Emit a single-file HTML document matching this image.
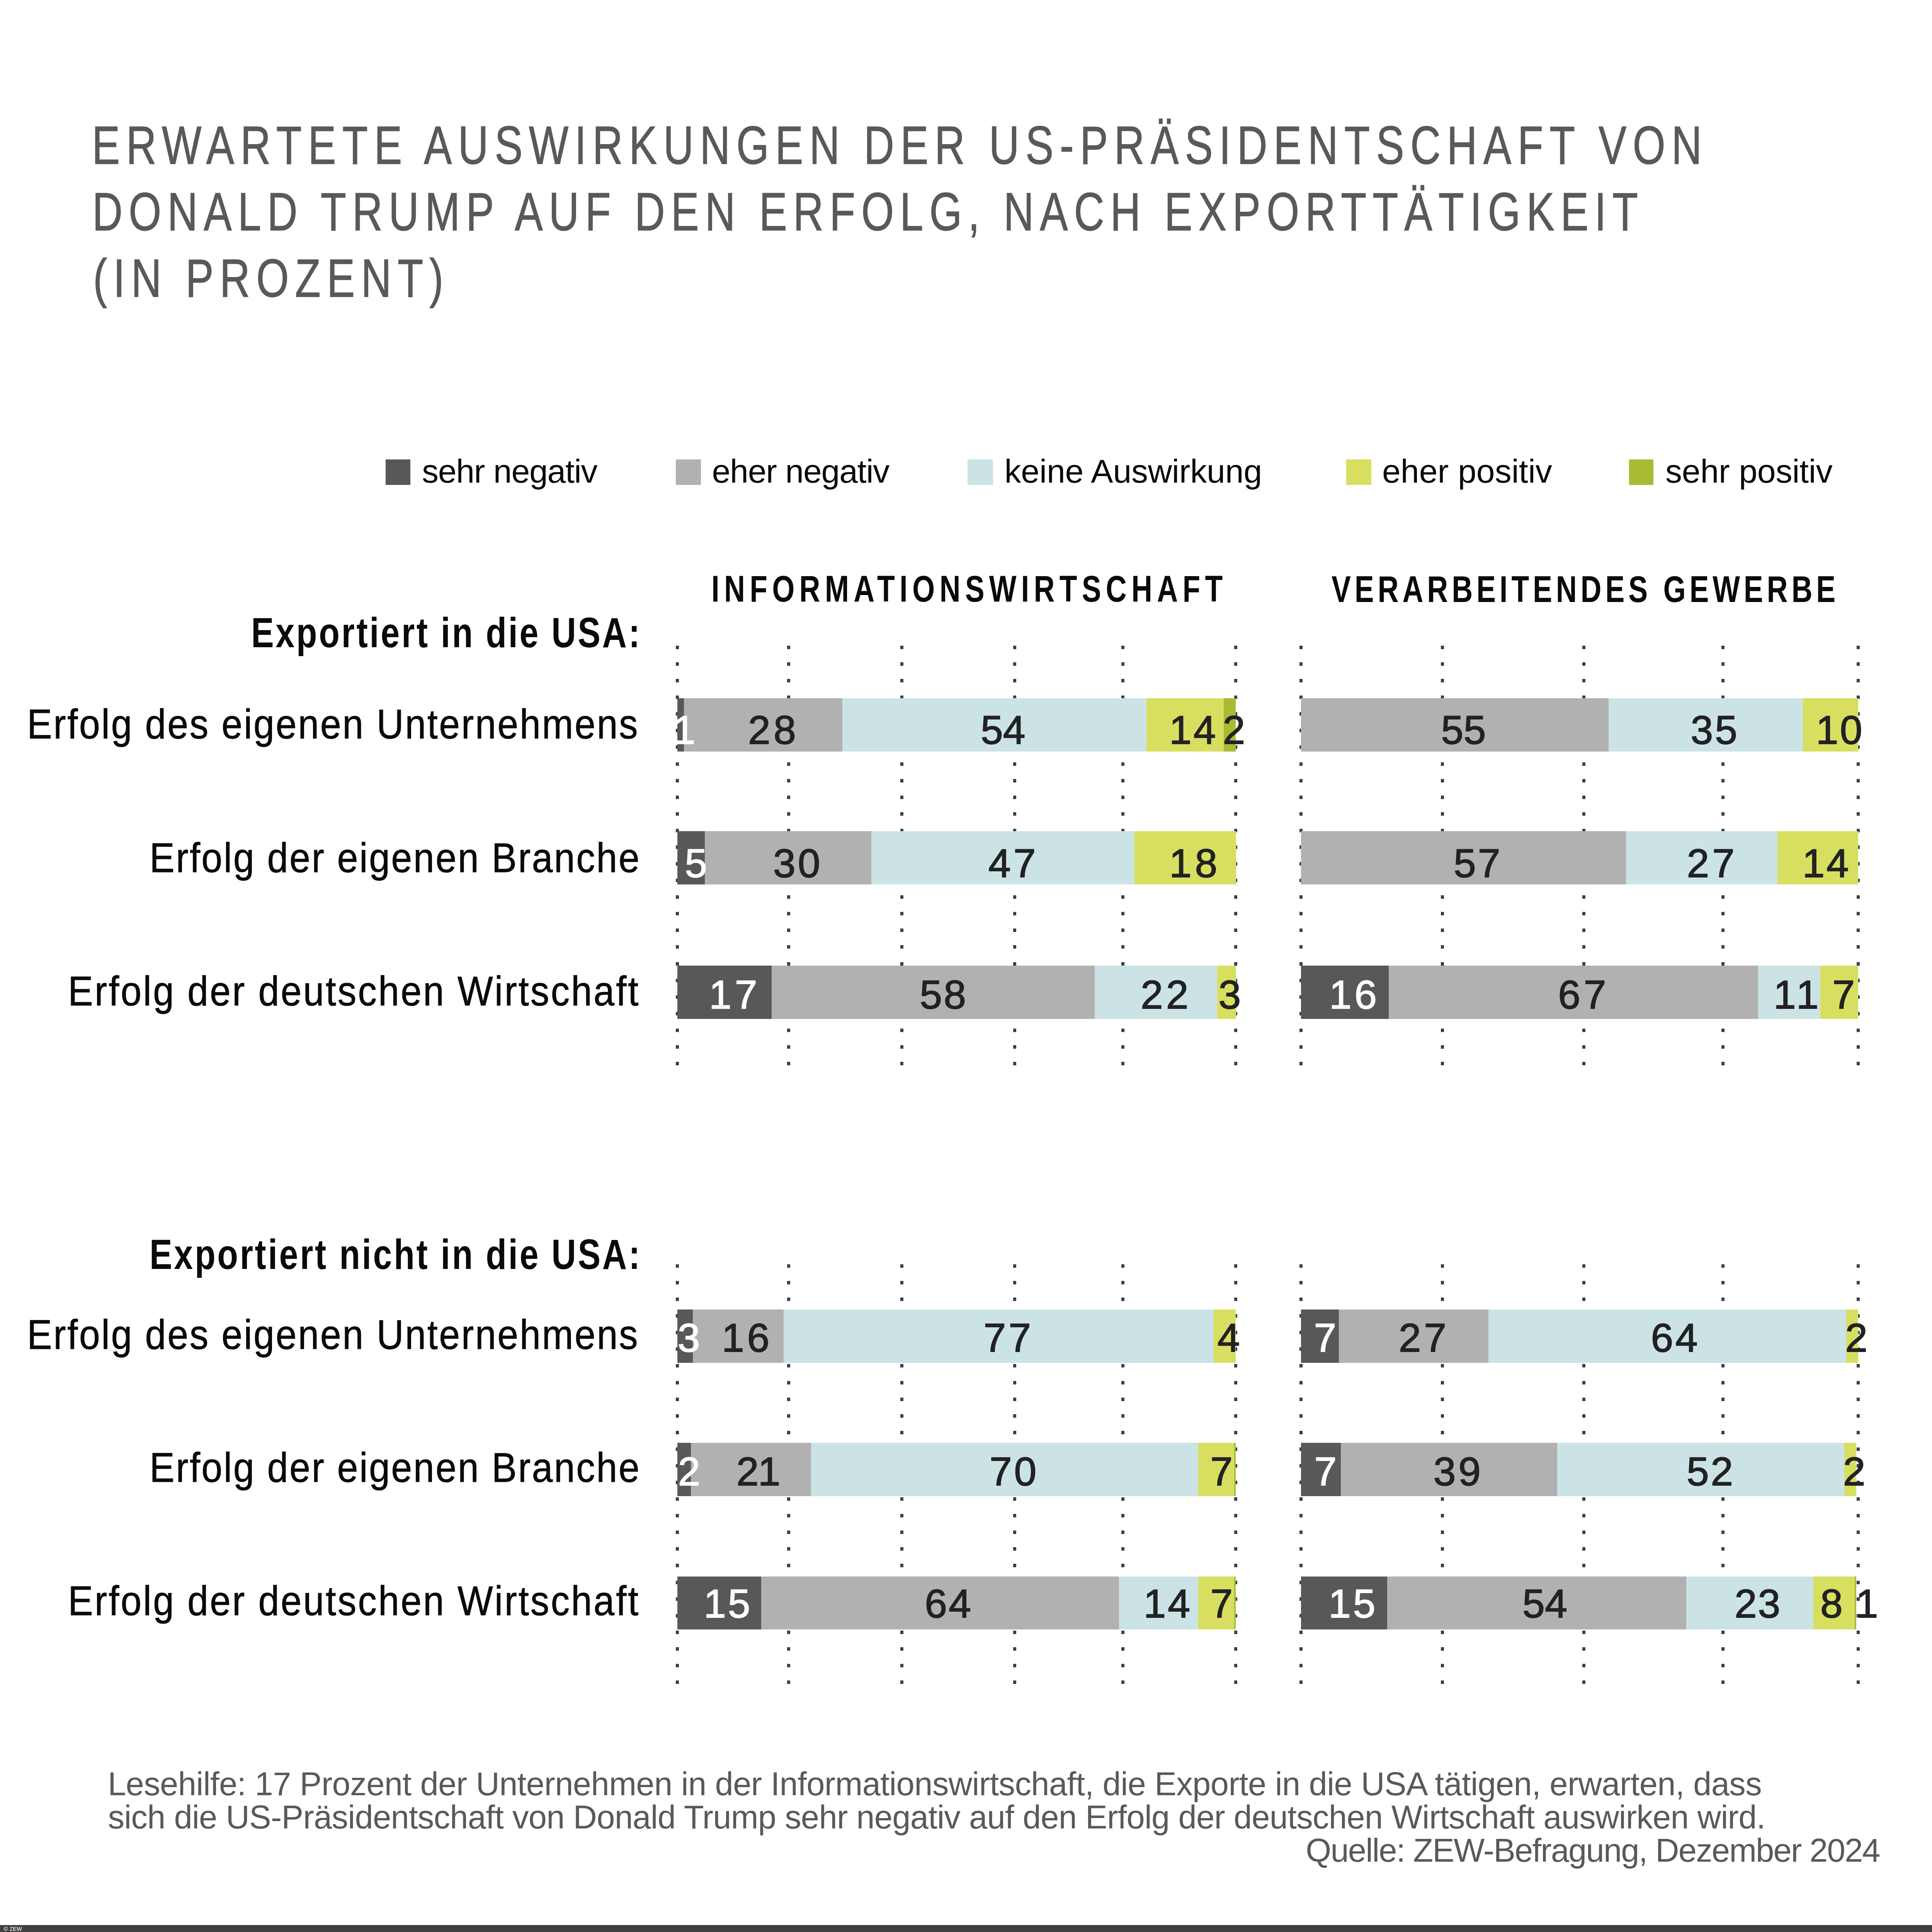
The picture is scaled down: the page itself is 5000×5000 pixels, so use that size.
<!DOCTYPE html>
<html><head><meta charset="utf-8"><title>Erwartete Auswirkungen der US-Präsidentschaft</title>
<style>
html,body{margin:0;padding:0;background:#fff;}
body{width:5000px;height:5000px;position:relative;overflow:hidden;font-family:"Liberation Sans",sans-serif;}
.t{position:absolute;white-space:nowrap;line-height:1;}
.b{position:absolute;}
.d{position:absolute;width:8px;height:9px;background:#30444e;}
</style></head><body>

<div class="d" style="left:1749px;top:1671px"></div>
<div class="d" style="left:1749px;top:1714px"></div>
<div class="d" style="left:1749px;top:1757px"></div>
<div class="d" style="left:1749px;top:1800px"></div>
<div class="d" style="left:1749px;top:1843px"></div>
<div class="d" style="left:1749px;top:1886px"></div>
<div class="d" style="left:1749px;top:1929px"></div>
<div class="d" style="left:1749px;top:1973px"></div>
<div class="d" style="left:1749px;top:2016px"></div>
<div class="d" style="left:1749px;top:2059px"></div>
<div class="d" style="left:1749px;top:2102px"></div>
<div class="d" style="left:1749px;top:2145px"></div>
<div class="d" style="left:1749px;top:2188px"></div>
<div class="d" style="left:1749px;top:2231px"></div>
<div class="d" style="left:1749px;top:2274px"></div>
<div class="d" style="left:1749px;top:2317px"></div>
<div class="d" style="left:1749px;top:2360px"></div>
<div class="d" style="left:1749px;top:2403px"></div>
<div class="d" style="left:1749px;top:2446px"></div>
<div class="d" style="left:1749px;top:2490px"></div>
<div class="d" style="left:1749px;top:2533px"></div>
<div class="d" style="left:1749px;top:2576px"></div>
<div class="d" style="left:1749px;top:2619px"></div>
<div class="d" style="left:1749px;top:2662px"></div>
<div class="d" style="left:1749px;top:2705px"></div>
<div class="d" style="left:1749px;top:2748px"></div>
<div class="d" style="left:2037px;top:1671px"></div>
<div class="d" style="left:2037px;top:1714px"></div>
<div class="d" style="left:2037px;top:1757px"></div>
<div class="d" style="left:2037px;top:1800px"></div>
<div class="d" style="left:2037px;top:1843px"></div>
<div class="d" style="left:2037px;top:1886px"></div>
<div class="d" style="left:2037px;top:1929px"></div>
<div class="d" style="left:2037px;top:1973px"></div>
<div class="d" style="left:2037px;top:2016px"></div>
<div class="d" style="left:2037px;top:2059px"></div>
<div class="d" style="left:2037px;top:2102px"></div>
<div class="d" style="left:2037px;top:2145px"></div>
<div class="d" style="left:2037px;top:2188px"></div>
<div class="d" style="left:2037px;top:2231px"></div>
<div class="d" style="left:2037px;top:2274px"></div>
<div class="d" style="left:2037px;top:2317px"></div>
<div class="d" style="left:2037px;top:2360px"></div>
<div class="d" style="left:2037px;top:2403px"></div>
<div class="d" style="left:2037px;top:2446px"></div>
<div class="d" style="left:2037px;top:2490px"></div>
<div class="d" style="left:2037px;top:2533px"></div>
<div class="d" style="left:2037px;top:2576px"></div>
<div class="d" style="left:2037px;top:2619px"></div>
<div class="d" style="left:2037px;top:2662px"></div>
<div class="d" style="left:2037px;top:2705px"></div>
<div class="d" style="left:2037px;top:2748px"></div>
<div class="d" style="left:2330px;top:1671px"></div>
<div class="d" style="left:2330px;top:1714px"></div>
<div class="d" style="left:2330px;top:1757px"></div>
<div class="d" style="left:2330px;top:1800px"></div>
<div class="d" style="left:2330px;top:1843px"></div>
<div class="d" style="left:2330px;top:1886px"></div>
<div class="d" style="left:2330px;top:1929px"></div>
<div class="d" style="left:2330px;top:1973px"></div>
<div class="d" style="left:2330px;top:2016px"></div>
<div class="d" style="left:2330px;top:2059px"></div>
<div class="d" style="left:2330px;top:2102px"></div>
<div class="d" style="left:2330px;top:2145px"></div>
<div class="d" style="left:2330px;top:2188px"></div>
<div class="d" style="left:2330px;top:2231px"></div>
<div class="d" style="left:2330px;top:2274px"></div>
<div class="d" style="left:2330px;top:2317px"></div>
<div class="d" style="left:2330px;top:2360px"></div>
<div class="d" style="left:2330px;top:2403px"></div>
<div class="d" style="left:2330px;top:2446px"></div>
<div class="d" style="left:2330px;top:2490px"></div>
<div class="d" style="left:2330px;top:2533px"></div>
<div class="d" style="left:2330px;top:2576px"></div>
<div class="d" style="left:2330px;top:2619px"></div>
<div class="d" style="left:2330px;top:2662px"></div>
<div class="d" style="left:2330px;top:2705px"></div>
<div class="d" style="left:2330px;top:2748px"></div>
<div class="d" style="left:2622px;top:1671px"></div>
<div class="d" style="left:2622px;top:1714px"></div>
<div class="d" style="left:2622px;top:1757px"></div>
<div class="d" style="left:2622px;top:1800px"></div>
<div class="d" style="left:2622px;top:1843px"></div>
<div class="d" style="left:2622px;top:1886px"></div>
<div class="d" style="left:2622px;top:1929px"></div>
<div class="d" style="left:2622px;top:1973px"></div>
<div class="d" style="left:2622px;top:2016px"></div>
<div class="d" style="left:2622px;top:2059px"></div>
<div class="d" style="left:2622px;top:2102px"></div>
<div class="d" style="left:2622px;top:2145px"></div>
<div class="d" style="left:2622px;top:2188px"></div>
<div class="d" style="left:2622px;top:2231px"></div>
<div class="d" style="left:2622px;top:2274px"></div>
<div class="d" style="left:2622px;top:2317px"></div>
<div class="d" style="left:2622px;top:2360px"></div>
<div class="d" style="left:2622px;top:2403px"></div>
<div class="d" style="left:2622px;top:2446px"></div>
<div class="d" style="left:2622px;top:2490px"></div>
<div class="d" style="left:2622px;top:2533px"></div>
<div class="d" style="left:2622px;top:2576px"></div>
<div class="d" style="left:2622px;top:2619px"></div>
<div class="d" style="left:2622px;top:2662px"></div>
<div class="d" style="left:2622px;top:2705px"></div>
<div class="d" style="left:2622px;top:2748px"></div>
<div class="d" style="left:2902px;top:1671px"></div>
<div class="d" style="left:2902px;top:1714px"></div>
<div class="d" style="left:2902px;top:1757px"></div>
<div class="d" style="left:2902px;top:1800px"></div>
<div class="d" style="left:2902px;top:1843px"></div>
<div class="d" style="left:2902px;top:1886px"></div>
<div class="d" style="left:2902px;top:1929px"></div>
<div class="d" style="left:2902px;top:1973px"></div>
<div class="d" style="left:2902px;top:2016px"></div>
<div class="d" style="left:2902px;top:2059px"></div>
<div class="d" style="left:2902px;top:2102px"></div>
<div class="d" style="left:2902px;top:2145px"></div>
<div class="d" style="left:2902px;top:2188px"></div>
<div class="d" style="left:2902px;top:2231px"></div>
<div class="d" style="left:2902px;top:2274px"></div>
<div class="d" style="left:2902px;top:2317px"></div>
<div class="d" style="left:2902px;top:2360px"></div>
<div class="d" style="left:2902px;top:2403px"></div>
<div class="d" style="left:2902px;top:2446px"></div>
<div class="d" style="left:2902px;top:2490px"></div>
<div class="d" style="left:2902px;top:2533px"></div>
<div class="d" style="left:2902px;top:2576px"></div>
<div class="d" style="left:2902px;top:2619px"></div>
<div class="d" style="left:2902px;top:2662px"></div>
<div class="d" style="left:2902px;top:2705px"></div>
<div class="d" style="left:2902px;top:2748px"></div>
<div class="d" style="left:3194px;top:1671px"></div>
<div class="d" style="left:3194px;top:1714px"></div>
<div class="d" style="left:3194px;top:1757px"></div>
<div class="d" style="left:3194px;top:1800px"></div>
<div class="d" style="left:3194px;top:1843px"></div>
<div class="d" style="left:3194px;top:1886px"></div>
<div class="d" style="left:3194px;top:1929px"></div>
<div class="d" style="left:3194px;top:1973px"></div>
<div class="d" style="left:3194px;top:2016px"></div>
<div class="d" style="left:3194px;top:2059px"></div>
<div class="d" style="left:3194px;top:2102px"></div>
<div class="d" style="left:3194px;top:2145px"></div>
<div class="d" style="left:3194px;top:2188px"></div>
<div class="d" style="left:3194px;top:2231px"></div>
<div class="d" style="left:3194px;top:2274px"></div>
<div class="d" style="left:3194px;top:2317px"></div>
<div class="d" style="left:3194px;top:2360px"></div>
<div class="d" style="left:3194px;top:2403px"></div>
<div class="d" style="left:3194px;top:2446px"></div>
<div class="d" style="left:3194px;top:2490px"></div>
<div class="d" style="left:3194px;top:2533px"></div>
<div class="d" style="left:3194px;top:2576px"></div>
<div class="d" style="left:3194px;top:2619px"></div>
<div class="d" style="left:3194px;top:2662px"></div>
<div class="d" style="left:3194px;top:2705px"></div>
<div class="d" style="left:3194px;top:2748px"></div>
<div class="d" style="left:3363px;top:1671px"></div>
<div class="d" style="left:3363px;top:1714px"></div>
<div class="d" style="left:3363px;top:1757px"></div>
<div class="d" style="left:3363px;top:1800px"></div>
<div class="d" style="left:3363px;top:1843px"></div>
<div class="d" style="left:3363px;top:1886px"></div>
<div class="d" style="left:3363px;top:1929px"></div>
<div class="d" style="left:3363px;top:1973px"></div>
<div class="d" style="left:3363px;top:2016px"></div>
<div class="d" style="left:3363px;top:2059px"></div>
<div class="d" style="left:3363px;top:2102px"></div>
<div class="d" style="left:3363px;top:2145px"></div>
<div class="d" style="left:3363px;top:2188px"></div>
<div class="d" style="left:3363px;top:2231px"></div>
<div class="d" style="left:3363px;top:2274px"></div>
<div class="d" style="left:3363px;top:2317px"></div>
<div class="d" style="left:3363px;top:2360px"></div>
<div class="d" style="left:3363px;top:2403px"></div>
<div class="d" style="left:3363px;top:2446px"></div>
<div class="d" style="left:3363px;top:2490px"></div>
<div class="d" style="left:3363px;top:2533px"></div>
<div class="d" style="left:3363px;top:2576px"></div>
<div class="d" style="left:3363px;top:2619px"></div>
<div class="d" style="left:3363px;top:2662px"></div>
<div class="d" style="left:3363px;top:2705px"></div>
<div class="d" style="left:3363px;top:2748px"></div>
<div class="d" style="left:3729px;top:1671px"></div>
<div class="d" style="left:3729px;top:1714px"></div>
<div class="d" style="left:3729px;top:1757px"></div>
<div class="d" style="left:3729px;top:1800px"></div>
<div class="d" style="left:3729px;top:1843px"></div>
<div class="d" style="left:3729px;top:1886px"></div>
<div class="d" style="left:3729px;top:1929px"></div>
<div class="d" style="left:3729px;top:1973px"></div>
<div class="d" style="left:3729px;top:2016px"></div>
<div class="d" style="left:3729px;top:2059px"></div>
<div class="d" style="left:3729px;top:2102px"></div>
<div class="d" style="left:3729px;top:2145px"></div>
<div class="d" style="left:3729px;top:2188px"></div>
<div class="d" style="left:3729px;top:2231px"></div>
<div class="d" style="left:3729px;top:2274px"></div>
<div class="d" style="left:3729px;top:2317px"></div>
<div class="d" style="left:3729px;top:2360px"></div>
<div class="d" style="left:3729px;top:2403px"></div>
<div class="d" style="left:3729px;top:2446px"></div>
<div class="d" style="left:3729px;top:2490px"></div>
<div class="d" style="left:3729px;top:2533px"></div>
<div class="d" style="left:3729px;top:2576px"></div>
<div class="d" style="left:3729px;top:2619px"></div>
<div class="d" style="left:3729px;top:2662px"></div>
<div class="d" style="left:3729px;top:2705px"></div>
<div class="d" style="left:3729px;top:2748px"></div>
<div class="d" style="left:4095px;top:1671px"></div>
<div class="d" style="left:4095px;top:1714px"></div>
<div class="d" style="left:4095px;top:1757px"></div>
<div class="d" style="left:4095px;top:1800px"></div>
<div class="d" style="left:4095px;top:1843px"></div>
<div class="d" style="left:4095px;top:1886px"></div>
<div class="d" style="left:4095px;top:1929px"></div>
<div class="d" style="left:4095px;top:1973px"></div>
<div class="d" style="left:4095px;top:2016px"></div>
<div class="d" style="left:4095px;top:2059px"></div>
<div class="d" style="left:4095px;top:2102px"></div>
<div class="d" style="left:4095px;top:2145px"></div>
<div class="d" style="left:4095px;top:2188px"></div>
<div class="d" style="left:4095px;top:2231px"></div>
<div class="d" style="left:4095px;top:2274px"></div>
<div class="d" style="left:4095px;top:2317px"></div>
<div class="d" style="left:4095px;top:2360px"></div>
<div class="d" style="left:4095px;top:2403px"></div>
<div class="d" style="left:4095px;top:2446px"></div>
<div class="d" style="left:4095px;top:2490px"></div>
<div class="d" style="left:4095px;top:2533px"></div>
<div class="d" style="left:4095px;top:2576px"></div>
<div class="d" style="left:4095px;top:2619px"></div>
<div class="d" style="left:4095px;top:2662px"></div>
<div class="d" style="left:4095px;top:2705px"></div>
<div class="d" style="left:4095px;top:2748px"></div>
<div class="d" style="left:4455px;top:1671px"></div>
<div class="d" style="left:4455px;top:1714px"></div>
<div class="d" style="left:4455px;top:1757px"></div>
<div class="d" style="left:4455px;top:1800px"></div>
<div class="d" style="left:4455px;top:1843px"></div>
<div class="d" style="left:4455px;top:1886px"></div>
<div class="d" style="left:4455px;top:1929px"></div>
<div class="d" style="left:4455px;top:1973px"></div>
<div class="d" style="left:4455px;top:2016px"></div>
<div class="d" style="left:4455px;top:2059px"></div>
<div class="d" style="left:4455px;top:2102px"></div>
<div class="d" style="left:4455px;top:2145px"></div>
<div class="d" style="left:4455px;top:2188px"></div>
<div class="d" style="left:4455px;top:2231px"></div>
<div class="d" style="left:4455px;top:2274px"></div>
<div class="d" style="left:4455px;top:2317px"></div>
<div class="d" style="left:4455px;top:2360px"></div>
<div class="d" style="left:4455px;top:2403px"></div>
<div class="d" style="left:4455px;top:2446px"></div>
<div class="d" style="left:4455px;top:2490px"></div>
<div class="d" style="left:4455px;top:2533px"></div>
<div class="d" style="left:4455px;top:2576px"></div>
<div class="d" style="left:4455px;top:2619px"></div>
<div class="d" style="left:4455px;top:2662px"></div>
<div class="d" style="left:4455px;top:2705px"></div>
<div class="d" style="left:4455px;top:2748px"></div>
<div class="d" style="left:4805px;top:1671px"></div>
<div class="d" style="left:4805px;top:1714px"></div>
<div class="d" style="left:4805px;top:1757px"></div>
<div class="d" style="left:4805px;top:1800px"></div>
<div class="d" style="left:4805px;top:1843px"></div>
<div class="d" style="left:4805px;top:1886px"></div>
<div class="d" style="left:4805px;top:1929px"></div>
<div class="d" style="left:4805px;top:1973px"></div>
<div class="d" style="left:4805px;top:2016px"></div>
<div class="d" style="left:4805px;top:2059px"></div>
<div class="d" style="left:4805px;top:2102px"></div>
<div class="d" style="left:4805px;top:2145px"></div>
<div class="d" style="left:4805px;top:2188px"></div>
<div class="d" style="left:4805px;top:2231px"></div>
<div class="d" style="left:4805px;top:2274px"></div>
<div class="d" style="left:4805px;top:2317px"></div>
<div class="d" style="left:4805px;top:2360px"></div>
<div class="d" style="left:4805px;top:2403px"></div>
<div class="d" style="left:4805px;top:2446px"></div>
<div class="d" style="left:4805px;top:2490px"></div>
<div class="d" style="left:4805px;top:2533px"></div>
<div class="d" style="left:4805px;top:2576px"></div>
<div class="d" style="left:4805px;top:2619px"></div>
<div class="d" style="left:4805px;top:2662px"></div>
<div class="d" style="left:4805px;top:2705px"></div>
<div class="d" style="left:4805px;top:2748px"></div>
<div class="d" style="left:1749px;top:3272px"></div>
<div class="d" style="left:1749px;top:3315px"></div>
<div class="d" style="left:1749px;top:3358px"></div>
<div class="d" style="left:1749px;top:3401px"></div>
<div class="d" style="left:1749px;top:3444px"></div>
<div class="d" style="left:1749px;top:3487px"></div>
<div class="d" style="left:1749px;top:3530px"></div>
<div class="d" style="left:1749px;top:3574px"></div>
<div class="d" style="left:1749px;top:3617px"></div>
<div class="d" style="left:1749px;top:3660px"></div>
<div class="d" style="left:1749px;top:3703px"></div>
<div class="d" style="left:1749px;top:3746px"></div>
<div class="d" style="left:1749px;top:3789px"></div>
<div class="d" style="left:1749px;top:3832px"></div>
<div class="d" style="left:1749px;top:3875px"></div>
<div class="d" style="left:1749px;top:3918px"></div>
<div class="d" style="left:1749px;top:3961px"></div>
<div class="d" style="left:1749px;top:4004px"></div>
<div class="d" style="left:1749px;top:4047px"></div>
<div class="d" style="left:1749px;top:4091px"></div>
<div class="d" style="left:1749px;top:4134px"></div>
<div class="d" style="left:1749px;top:4177px"></div>
<div class="d" style="left:1749px;top:4220px"></div>
<div class="d" style="left:1749px;top:4263px"></div>
<div class="d" style="left:1749px;top:4306px"></div>
<div class="d" style="left:1749px;top:4349px"></div>
<div class="d" style="left:2037px;top:3272px"></div>
<div class="d" style="left:2037px;top:3315px"></div>
<div class="d" style="left:2037px;top:3358px"></div>
<div class="d" style="left:2037px;top:3401px"></div>
<div class="d" style="left:2037px;top:3444px"></div>
<div class="d" style="left:2037px;top:3487px"></div>
<div class="d" style="left:2037px;top:3530px"></div>
<div class="d" style="left:2037px;top:3574px"></div>
<div class="d" style="left:2037px;top:3617px"></div>
<div class="d" style="left:2037px;top:3660px"></div>
<div class="d" style="left:2037px;top:3703px"></div>
<div class="d" style="left:2037px;top:3746px"></div>
<div class="d" style="left:2037px;top:3789px"></div>
<div class="d" style="left:2037px;top:3832px"></div>
<div class="d" style="left:2037px;top:3875px"></div>
<div class="d" style="left:2037px;top:3918px"></div>
<div class="d" style="left:2037px;top:3961px"></div>
<div class="d" style="left:2037px;top:4004px"></div>
<div class="d" style="left:2037px;top:4047px"></div>
<div class="d" style="left:2037px;top:4091px"></div>
<div class="d" style="left:2037px;top:4134px"></div>
<div class="d" style="left:2037px;top:4177px"></div>
<div class="d" style="left:2037px;top:4220px"></div>
<div class="d" style="left:2037px;top:4263px"></div>
<div class="d" style="left:2037px;top:4306px"></div>
<div class="d" style="left:2037px;top:4349px"></div>
<div class="d" style="left:2330px;top:3272px"></div>
<div class="d" style="left:2330px;top:3315px"></div>
<div class="d" style="left:2330px;top:3358px"></div>
<div class="d" style="left:2330px;top:3401px"></div>
<div class="d" style="left:2330px;top:3444px"></div>
<div class="d" style="left:2330px;top:3487px"></div>
<div class="d" style="left:2330px;top:3530px"></div>
<div class="d" style="left:2330px;top:3574px"></div>
<div class="d" style="left:2330px;top:3617px"></div>
<div class="d" style="left:2330px;top:3660px"></div>
<div class="d" style="left:2330px;top:3703px"></div>
<div class="d" style="left:2330px;top:3746px"></div>
<div class="d" style="left:2330px;top:3789px"></div>
<div class="d" style="left:2330px;top:3832px"></div>
<div class="d" style="left:2330px;top:3875px"></div>
<div class="d" style="left:2330px;top:3918px"></div>
<div class="d" style="left:2330px;top:3961px"></div>
<div class="d" style="left:2330px;top:4004px"></div>
<div class="d" style="left:2330px;top:4047px"></div>
<div class="d" style="left:2330px;top:4091px"></div>
<div class="d" style="left:2330px;top:4134px"></div>
<div class="d" style="left:2330px;top:4177px"></div>
<div class="d" style="left:2330px;top:4220px"></div>
<div class="d" style="left:2330px;top:4263px"></div>
<div class="d" style="left:2330px;top:4306px"></div>
<div class="d" style="left:2330px;top:4349px"></div>
<div class="d" style="left:2622px;top:3272px"></div>
<div class="d" style="left:2622px;top:3315px"></div>
<div class="d" style="left:2622px;top:3358px"></div>
<div class="d" style="left:2622px;top:3401px"></div>
<div class="d" style="left:2622px;top:3444px"></div>
<div class="d" style="left:2622px;top:3487px"></div>
<div class="d" style="left:2622px;top:3530px"></div>
<div class="d" style="left:2622px;top:3574px"></div>
<div class="d" style="left:2622px;top:3617px"></div>
<div class="d" style="left:2622px;top:3660px"></div>
<div class="d" style="left:2622px;top:3703px"></div>
<div class="d" style="left:2622px;top:3746px"></div>
<div class="d" style="left:2622px;top:3789px"></div>
<div class="d" style="left:2622px;top:3832px"></div>
<div class="d" style="left:2622px;top:3875px"></div>
<div class="d" style="left:2622px;top:3918px"></div>
<div class="d" style="left:2622px;top:3961px"></div>
<div class="d" style="left:2622px;top:4004px"></div>
<div class="d" style="left:2622px;top:4047px"></div>
<div class="d" style="left:2622px;top:4091px"></div>
<div class="d" style="left:2622px;top:4134px"></div>
<div class="d" style="left:2622px;top:4177px"></div>
<div class="d" style="left:2622px;top:4220px"></div>
<div class="d" style="left:2622px;top:4263px"></div>
<div class="d" style="left:2622px;top:4306px"></div>
<div class="d" style="left:2622px;top:4349px"></div>
<div class="d" style="left:2902px;top:3272px"></div>
<div class="d" style="left:2902px;top:3315px"></div>
<div class="d" style="left:2902px;top:3358px"></div>
<div class="d" style="left:2902px;top:3401px"></div>
<div class="d" style="left:2902px;top:3444px"></div>
<div class="d" style="left:2902px;top:3487px"></div>
<div class="d" style="left:2902px;top:3530px"></div>
<div class="d" style="left:2902px;top:3574px"></div>
<div class="d" style="left:2902px;top:3617px"></div>
<div class="d" style="left:2902px;top:3660px"></div>
<div class="d" style="left:2902px;top:3703px"></div>
<div class="d" style="left:2902px;top:3746px"></div>
<div class="d" style="left:2902px;top:3789px"></div>
<div class="d" style="left:2902px;top:3832px"></div>
<div class="d" style="left:2902px;top:3875px"></div>
<div class="d" style="left:2902px;top:3918px"></div>
<div class="d" style="left:2902px;top:3961px"></div>
<div class="d" style="left:2902px;top:4004px"></div>
<div class="d" style="left:2902px;top:4047px"></div>
<div class="d" style="left:2902px;top:4091px"></div>
<div class="d" style="left:2902px;top:4134px"></div>
<div class="d" style="left:2902px;top:4177px"></div>
<div class="d" style="left:2902px;top:4220px"></div>
<div class="d" style="left:2902px;top:4263px"></div>
<div class="d" style="left:2902px;top:4306px"></div>
<div class="d" style="left:2902px;top:4349px"></div>
<div class="d" style="left:3194px;top:3272px"></div>
<div class="d" style="left:3194px;top:3315px"></div>
<div class="d" style="left:3194px;top:3358px"></div>
<div class="d" style="left:3194px;top:3401px"></div>
<div class="d" style="left:3194px;top:3444px"></div>
<div class="d" style="left:3194px;top:3487px"></div>
<div class="d" style="left:3194px;top:3530px"></div>
<div class="d" style="left:3194px;top:3574px"></div>
<div class="d" style="left:3194px;top:3617px"></div>
<div class="d" style="left:3194px;top:3660px"></div>
<div class="d" style="left:3194px;top:3703px"></div>
<div class="d" style="left:3194px;top:3746px"></div>
<div class="d" style="left:3194px;top:3789px"></div>
<div class="d" style="left:3194px;top:3832px"></div>
<div class="d" style="left:3194px;top:3875px"></div>
<div class="d" style="left:3194px;top:3918px"></div>
<div class="d" style="left:3194px;top:3961px"></div>
<div class="d" style="left:3194px;top:4004px"></div>
<div class="d" style="left:3194px;top:4047px"></div>
<div class="d" style="left:3194px;top:4091px"></div>
<div class="d" style="left:3194px;top:4134px"></div>
<div class="d" style="left:3194px;top:4177px"></div>
<div class="d" style="left:3194px;top:4220px"></div>
<div class="d" style="left:3194px;top:4263px"></div>
<div class="d" style="left:3194px;top:4306px"></div>
<div class="d" style="left:3194px;top:4349px"></div>
<div class="d" style="left:3363px;top:3272px"></div>
<div class="d" style="left:3363px;top:3315px"></div>
<div class="d" style="left:3363px;top:3358px"></div>
<div class="d" style="left:3363px;top:3401px"></div>
<div class="d" style="left:3363px;top:3444px"></div>
<div class="d" style="left:3363px;top:3487px"></div>
<div class="d" style="left:3363px;top:3530px"></div>
<div class="d" style="left:3363px;top:3574px"></div>
<div class="d" style="left:3363px;top:3617px"></div>
<div class="d" style="left:3363px;top:3660px"></div>
<div class="d" style="left:3363px;top:3703px"></div>
<div class="d" style="left:3363px;top:3746px"></div>
<div class="d" style="left:3363px;top:3789px"></div>
<div class="d" style="left:3363px;top:3832px"></div>
<div class="d" style="left:3363px;top:3875px"></div>
<div class="d" style="left:3363px;top:3918px"></div>
<div class="d" style="left:3363px;top:3961px"></div>
<div class="d" style="left:3363px;top:4004px"></div>
<div class="d" style="left:3363px;top:4047px"></div>
<div class="d" style="left:3363px;top:4091px"></div>
<div class="d" style="left:3363px;top:4134px"></div>
<div class="d" style="left:3363px;top:4177px"></div>
<div class="d" style="left:3363px;top:4220px"></div>
<div class="d" style="left:3363px;top:4263px"></div>
<div class="d" style="left:3363px;top:4306px"></div>
<div class="d" style="left:3363px;top:4349px"></div>
<div class="d" style="left:3729px;top:3272px"></div>
<div class="d" style="left:3729px;top:3315px"></div>
<div class="d" style="left:3729px;top:3358px"></div>
<div class="d" style="left:3729px;top:3401px"></div>
<div class="d" style="left:3729px;top:3444px"></div>
<div class="d" style="left:3729px;top:3487px"></div>
<div class="d" style="left:3729px;top:3530px"></div>
<div class="d" style="left:3729px;top:3574px"></div>
<div class="d" style="left:3729px;top:3617px"></div>
<div class="d" style="left:3729px;top:3660px"></div>
<div class="d" style="left:3729px;top:3703px"></div>
<div class="d" style="left:3729px;top:3746px"></div>
<div class="d" style="left:3729px;top:3789px"></div>
<div class="d" style="left:3729px;top:3832px"></div>
<div class="d" style="left:3729px;top:3875px"></div>
<div class="d" style="left:3729px;top:3918px"></div>
<div class="d" style="left:3729px;top:3961px"></div>
<div class="d" style="left:3729px;top:4004px"></div>
<div class="d" style="left:3729px;top:4047px"></div>
<div class="d" style="left:3729px;top:4091px"></div>
<div class="d" style="left:3729px;top:4134px"></div>
<div class="d" style="left:3729px;top:4177px"></div>
<div class="d" style="left:3729px;top:4220px"></div>
<div class="d" style="left:3729px;top:4263px"></div>
<div class="d" style="left:3729px;top:4306px"></div>
<div class="d" style="left:3729px;top:4349px"></div>
<div class="d" style="left:4095px;top:3272px"></div>
<div class="d" style="left:4095px;top:3315px"></div>
<div class="d" style="left:4095px;top:3358px"></div>
<div class="d" style="left:4095px;top:3401px"></div>
<div class="d" style="left:4095px;top:3444px"></div>
<div class="d" style="left:4095px;top:3487px"></div>
<div class="d" style="left:4095px;top:3530px"></div>
<div class="d" style="left:4095px;top:3574px"></div>
<div class="d" style="left:4095px;top:3617px"></div>
<div class="d" style="left:4095px;top:3660px"></div>
<div class="d" style="left:4095px;top:3703px"></div>
<div class="d" style="left:4095px;top:3746px"></div>
<div class="d" style="left:4095px;top:3789px"></div>
<div class="d" style="left:4095px;top:3832px"></div>
<div class="d" style="left:4095px;top:3875px"></div>
<div class="d" style="left:4095px;top:3918px"></div>
<div class="d" style="left:4095px;top:3961px"></div>
<div class="d" style="left:4095px;top:4004px"></div>
<div class="d" style="left:4095px;top:4047px"></div>
<div class="d" style="left:4095px;top:4091px"></div>
<div class="d" style="left:4095px;top:4134px"></div>
<div class="d" style="left:4095px;top:4177px"></div>
<div class="d" style="left:4095px;top:4220px"></div>
<div class="d" style="left:4095px;top:4263px"></div>
<div class="d" style="left:4095px;top:4306px"></div>
<div class="d" style="left:4095px;top:4349px"></div>
<div class="d" style="left:4455px;top:3272px"></div>
<div class="d" style="left:4455px;top:3315px"></div>
<div class="d" style="left:4455px;top:3358px"></div>
<div class="d" style="left:4455px;top:3401px"></div>
<div class="d" style="left:4455px;top:3444px"></div>
<div class="d" style="left:4455px;top:3487px"></div>
<div class="d" style="left:4455px;top:3530px"></div>
<div class="d" style="left:4455px;top:3574px"></div>
<div class="d" style="left:4455px;top:3617px"></div>
<div class="d" style="left:4455px;top:3660px"></div>
<div class="d" style="left:4455px;top:3703px"></div>
<div class="d" style="left:4455px;top:3746px"></div>
<div class="d" style="left:4455px;top:3789px"></div>
<div class="d" style="left:4455px;top:3832px"></div>
<div class="d" style="left:4455px;top:3875px"></div>
<div class="d" style="left:4455px;top:3918px"></div>
<div class="d" style="left:4455px;top:3961px"></div>
<div class="d" style="left:4455px;top:4004px"></div>
<div class="d" style="left:4455px;top:4047px"></div>
<div class="d" style="left:4455px;top:4091px"></div>
<div class="d" style="left:4455px;top:4134px"></div>
<div class="d" style="left:4455px;top:4177px"></div>
<div class="d" style="left:4455px;top:4220px"></div>
<div class="d" style="left:4455px;top:4263px"></div>
<div class="d" style="left:4455px;top:4306px"></div>
<div class="d" style="left:4455px;top:4349px"></div>
<div class="d" style="left:4805px;top:3272px"></div>
<div class="d" style="left:4805px;top:3315px"></div>
<div class="d" style="left:4805px;top:3358px"></div>
<div class="d" style="left:4805px;top:3401px"></div>
<div class="d" style="left:4805px;top:3444px"></div>
<div class="d" style="left:4805px;top:3487px"></div>
<div class="d" style="left:4805px;top:3530px"></div>
<div class="d" style="left:4805px;top:3574px"></div>
<div class="d" style="left:4805px;top:3617px"></div>
<div class="d" style="left:4805px;top:3660px"></div>
<div class="d" style="left:4805px;top:3703px"></div>
<div class="d" style="left:4805px;top:3746px"></div>
<div class="d" style="left:4805px;top:3789px"></div>
<div class="d" style="left:4805px;top:3832px"></div>
<div class="d" style="left:4805px;top:3875px"></div>
<div class="d" style="left:4805px;top:3918px"></div>
<div class="d" style="left:4805px;top:3961px"></div>
<div class="d" style="left:4805px;top:4004px"></div>
<div class="d" style="left:4805px;top:4047px"></div>
<div class="d" style="left:4805px;top:4091px"></div>
<div class="d" style="left:4805px;top:4134px"></div>
<div class="d" style="left:4805px;top:4177px"></div>
<div class="d" style="left:4805px;top:4220px"></div>
<div class="d" style="left:4805px;top:4263px"></div>
<div class="d" style="left:4805px;top:4306px"></div>
<div class="d" style="left:4805px;top:4349px"></div>
<div class="b" style="left:1752.5px;top:1807px;width:17.7px;height:137.7px;background:#585858"></div>
<div class="b" style="left:1770.2px;top:1807px;width:409.6px;height:137.7px;background:#b1b1b1"></div>
<div class="b" style="left:2179.8px;top:1807px;width:787.2px;height:137.7px;background:#cce3e6"></div>
<div class="b" style="left:2967px;top:1807px;width:200.4px;height:137.7px;background:#d8df60"></div>
<div class="b" style="left:3167.4px;top:1807px;width:31.1px;height:137.7px;background:#a9bb31"></div>
<div class="b" style="left:1752.5px;top:2151.4px;width:71.4px;height:137.7px;background:#585858"></div>
<div class="b" style="left:1823.9px;top:2151.4px;width:431.2px;height:137.7px;background:#b1b1b1"></div>
<div class="b" style="left:2255.1px;top:2151.4px;width:680.9px;height:137.7px;background:#cce3e6"></div>
<div class="b" style="left:2936px;top:2151.4px;width:262.5px;height:137.7px;background:#d8df60"></div>
<div class="b" style="left:1752.5px;top:2498.9px;width:244.5px;height:137.7px;background:#585858"></div>
<div class="b" style="left:1997px;top:2498.9px;width:836.4px;height:137.7px;background:#b1b1b1"></div>
<div class="b" style="left:2833.4px;top:2498.9px;width:316.4px;height:137.7px;background:#cce3e6"></div>
<div class="b" style="left:3149.8px;top:2498.9px;width:48.8px;height:137.7px;background:#d8df60"></div>
<div class="b" style="left:3367.3px;top:1807px;width:796px;height:137.7px;background:#b1b1b1"></div>
<div class="b" style="left:4163.3px;top:1807px;width:503.1px;height:137.7px;background:#cce3e6"></div>
<div class="b" style="left:4666.4px;top:1807px;width:142.6px;height:137.7px;background:#d8df60"></div>
<div class="b" style="left:3367.3px;top:2151.4px;width:840.6px;height:137.7px;background:#b1b1b1"></div>
<div class="b" style="left:4207.9px;top:2151.4px;width:391.7px;height:137.7px;background:#cce3e6"></div>
<div class="b" style="left:4599.6px;top:2151.4px;width:209.4px;height:137.7px;background:#d8df60"></div>
<div class="b" style="left:3367.3px;top:2498.9px;width:226.5px;height:137.7px;background:#585858"></div>
<div class="b" style="left:3593.8px;top:2498.9px;width:956.5px;height:137.7px;background:#b1b1b1"></div>
<div class="b" style="left:4550.3px;top:2498.9px;width:160.7px;height:137.7px;background:#cce3e6"></div>
<div class="b" style="left:4711px;top:2498.9px;width:98px;height:137.7px;background:#d8df60"></div>
<div class="b" style="left:1752.5px;top:3389px;width:40.3px;height:137.7px;background:#585858"></div>
<div class="b" style="left:1792.8px;top:3389px;width:235.4px;height:137.7px;background:#b1b1b1"></div>
<div class="b" style="left:2028.2px;top:3389px;width:1112.5px;height:137.7px;background:#cce3e6"></div>
<div class="b" style="left:3140.7px;top:3389px;width:57.3px;height:137.7px;background:#d8df60"></div>
<div class="b" style="left:1752.5px;top:3734.2px;width:35.6px;height:137.7px;background:#585858"></div>
<div class="b" style="left:1788.1px;top:3734.2px;width:310.9px;height:137.7px;background:#b1b1b1"></div>
<div class="b" style="left:2099px;top:3734.2px;width:1002px;height:137.7px;background:#cce3e6"></div>
<div class="b" style="left:3101px;top:3734.2px;width:93px;height:137.7px;background:#d8df60"></div>
<div class="b" style="left:3194px;top:3734.2px;width:4px;height:137.7px;background:#a9bb31"></div>
<div class="b" style="left:1752.5px;top:4079.8px;width:217.7px;height:137.7px;background:#585858"></div>
<div class="b" style="left:1970.2px;top:4079.8px;width:925.4px;height:137.7px;background:#b1b1b1"></div>
<div class="b" style="left:2895.6px;top:4079.8px;width:205.4px;height:137.7px;background:#cce3e6"></div>
<div class="b" style="left:3101px;top:4079.8px;width:93px;height:137.7px;background:#d8df60"></div>
<div class="b" style="left:3194px;top:4079.8px;width:4px;height:137.7px;background:#a9bb31"></div>
<div class="b" style="left:3367.3px;top:3389px;width:97.6px;height:137.7px;background:#585858"></div>
<div class="b" style="left:3464.9px;top:3389px;width:387.1px;height:137.7px;background:#b1b1b1"></div>
<div class="b" style="left:3852px;top:3389px;width:925.8px;height:137.7px;background:#cce3e6"></div>
<div class="b" style="left:4777.8px;top:3389px;width:31.2px;height:137.7px;background:#d8df60"></div>
<div class="b" style="left:3367.3px;top:3734.2px;width:102.3px;height:137.7px;background:#585858"></div>
<div class="b" style="left:3469.6px;top:3734.2px;width:560.4px;height:137.7px;background:#b1b1b1"></div>
<div class="b" style="left:4030px;top:3734.2px;width:742.7px;height:137.7px;background:#cce3e6"></div>
<div class="b" style="left:4772.7px;top:3734.2px;width:31.5px;height:137.7px;background:#d8df60"></div>
<div class="b" style="left:3367.3px;top:4079.8px;width:222.7px;height:137.7px;background:#585858"></div>
<div class="b" style="left:3590px;top:4079.8px;width:774px;height:137.7px;background:#b1b1b1"></div>
<div class="b" style="left:4364px;top:4079.8px;width:328.8px;height:137.7px;background:#cce3e6"></div>
<div class="b" style="left:4692.8px;top:4079.8px;width:106.9px;height:137.7px;background:#d8df60"></div>
<div class="b" style="left:4799.7px;top:4079.8px;width:4.6px;height:137.7px;background:#a9bb31"></div>
<div class="b" style="left:998px;top:1189px;width:64px;height:65.5px;background:#585858"></div>
<div class="b" style="left:1749.3px;top:1189px;width:65.2px;height:65.5px;background:#b1b1b1"></div>
<div class="b" style="left:2504.4px;top:1189px;width:65.6px;height:65.5px;background:#cce3e6"></div>
<div class="b" style="left:3484px;top:1189px;width:65px;height:65.5px;background:#d8df60"></div>
<div class="b" style="left:4216px;top:1189px;width:63px;height:65.5px;background:#a9bb31"></div>
<div class="b" style="left:0;top:4982px;width:5000px;height:18px;background:#404040"></div>
<div class="t" style="left:238.42px;top:305.8px;font-size:139px;font-weight:400;color:#595959;letter-spacing:20.8px;transform:scaleX(0.78);transform-origin:0 0;-webkit-text-stroke:1.5px #595959">ERWARTETE AUSWIRKUNGEN DER US-PRÄSIDENTSCHAFT VON</div>
<div class="t" style="left:239.02px;top:478px;font-size:139px;font-weight:400;color:#595959;letter-spacing:20.27px;transform:scaleX(0.78);transform-origin:0 0;-webkit-text-stroke:1.5px #595959">DONALD TRUMP AUF DEN ERFOLG, NACH EXPORTTÄTIGKEIT</div>
<div class="t" style="left:240.58px;top:649.8px;font-size:139px;font-weight:400;color:#595959;letter-spacing:20.7px;transform:scaleX(0.78);transform-origin:0 0;-webkit-text-stroke:1.5px #595959">(IN PROZENT)</div>
<div class="t" style="left:1092px;top:1176px;font-size:86px;font-weight:400;color:#0a0a0a;letter-spacing:-1.27px">sehr negativ</div>
<div class="t" style="left:1842.5px;top:1176px;font-size:86px;font-weight:400;color:#0a0a0a;letter-spacing:-1.23px">eher negativ</div>
<div class="t" style="left:2599.5px;top:1176px;font-size:86px;font-weight:400;color:#0a0a0a;letter-spacing:-0.17px">keine Auswirkung</div>
<div class="t" style="left:3577px;top:1176px;font-size:86px;font-weight:400;color:#0a0a0a">eher positiv</div>
<div class="t" style="left:4310px;top:1176px;font-size:86px;font-weight:400;color:#0a0a0a;letter-spacing:-0.21px">sehr positiv</div>
<div class="t" style="left:1841.32px;top:1476px;font-size:96px;font-weight:700;color:#0a0a0a;letter-spacing:15.61px;transform:scaleX(0.78);transform-origin:0 0">INFORMATIONSWIRTSCHAFT</div>
<div class="t" style="left:3446.22px;top:1476.5px;font-size:96px;font-weight:700;color:#0a0a0a;letter-spacing:12.57px;transform:scaleX(0.78);transform-origin:0 0">VERARBEITENDES GEWERBE</div>
<div class="t" style="left:650.2px;top:1581.9px;font-size:110px;font-weight:700;color:#0a0a0a;letter-spacing:5.75px;transform:scaleX(0.8);transform-origin:0 0">Exportiert in die USA:</div>
<div class="t" style="left:387.4px;top:3191px;font-size:110px;font-weight:700;color:#0a0a0a;letter-spacing:5.8px;transform:scaleX(0.8);transform-origin:0 0">Exportiert nicht in die USA:</div>
<div class="t" style="left:69.9px;top:1820.4px;font-size:108px;font-weight:400;color:#0a0a0a;letter-spacing:3.91px;transform:scaleX(0.9);transform-origin:0 0;-webkit-text-stroke:1px #0a0a0a">Erfolg des eigenen Unternehmens</div>
<div class="t" style="left:386.6px;top:2166px;font-size:108px;font-weight:400;color:#0a0a0a;letter-spacing:3.75px;transform:scaleX(0.9);transform-origin:0 0;-webkit-text-stroke:1px #0a0a0a">Erfolg der eigenen Branche</div>
<div class="t" style="left:176.4px;top:2511px;font-size:108px;font-weight:400;color:#0a0a0a;letter-spacing:4.45px;transform:scaleX(0.9);transform-origin:0 0;-webkit-text-stroke:1px #0a0a0a">Erfolg der deutschen Wirtschaft</div>
<div class="t" style="left:69.9px;top:3400.4px;font-size:108px;font-weight:400;color:#0a0a0a;letter-spacing:3.91px;transform:scaleX(0.9);transform-origin:0 0;-webkit-text-stroke:1px #0a0a0a">Erfolg des eigenen Unternehmens</div>
<div class="t" style="left:386.6px;top:3744.4px;font-size:108px;font-weight:400;color:#0a0a0a;letter-spacing:3.75px;transform:scaleX(0.9);transform-origin:0 0;-webkit-text-stroke:1px #0a0a0a">Erfolg der eigenen Branche</div>
<div class="t" style="left:176.4px;top:4089.3px;font-size:108px;font-weight:400;color:#0a0a0a;letter-spacing:4.45px;transform:scaleX(0.9);transform-origin:0 0;-webkit-text-stroke:1px #0a0a0a">Erfolg der deutschen Wirtschaft</div>
<div class="t" style="left:278.9px;top:4573.9px;font-size:85px;font-weight:400;color:#595959;letter-spacing:-0.62px">Lesehilfe: 17 Prozent der Unternehmen in der Informationswirtschaft, die Exporte in die USA tätigen, erwarten, dass</div>
<div class="t" style="left:279.5px;top:4660px;font-size:85px;font-weight:400;color:#595959;letter-spacing:-0.76px">sich die US-Präsidentschaft von Donald Trump sehr negativ auf den Erfolg der deutschen Wirtschaft auswirken wird.</div>
<div class="t" style="left:3379.2px;top:4746px;font-size:85px;font-weight:400;color:#595959;letter-spacing:-1.87px">Quelle: ZEW-Befragung, Dezember 2024</div>
<div class="t" style="left:1741.75px;top:1836.6px;font-size:104px;font-weight:400;color:#ffffff;-webkit-text-stroke:2px #ffffff">1</div>
<div class="t" style="left:1936px;top:1836.6px;font-size:104px;font-weight:400;color:#222222;letter-spacing:8.2px;-webkit-text-stroke:2px #222222">28</div>
<div class="t" style="left:2538px;top:1836.6px;font-size:104px;font-weight:400;color:#222222;-webkit-text-stroke:2px #222222">54</div>
<div class="t" style="left:3026px;top:1836.6px;font-size:104px;font-weight:400;color:#222222;letter-spacing:5px;-webkit-text-stroke:2px #222222">14</div>
<div class="t" style="left:3164.5px;top:1836.6px;font-size:104px;font-weight:400;color:#222222;-webkit-text-stroke:2px #222222">2</div>
<div class="t" style="left:1772.25px;top:2181.8px;font-size:104px;font-weight:400;color:#ffffff;-webkit-text-stroke:2px #ffffff">5</div>
<div class="t" style="left:2001px;top:2181.8px;font-size:104px;font-weight:400;color:#222222;letter-spacing:6px;-webkit-text-stroke:2px #222222">30</div>
<div class="t" style="left:2558px;top:2181.8px;font-size:104px;font-weight:400;color:#222222;letter-spacing:7px;-webkit-text-stroke:2px #222222">47</div>
<div class="t" style="left:3026px;top:2181.8px;font-size:104px;font-weight:400;color:#222222;letter-spacing:8.6px;-webkit-text-stroke:2px #222222">18</div>
<div class="t" style="left:1835px;top:2522px;font-size:104px;font-weight:400;color:#ffffff;letter-spacing:9px;-webkit-text-stroke:2px #ffffff">17</div>
<div class="t" style="left:2380.3px;top:2522px;font-size:104px;font-weight:400;color:#222222;letter-spacing:4px;-webkit-text-stroke:2px #222222">58</div>
<div class="t" style="left:2952px;top:2522px;font-size:104px;font-weight:400;color:#222222;letter-spacing:8px;-webkit-text-stroke:2px #222222">22</div>
<div class="t" style="left:3153.5px;top:2522px;font-size:104px;font-weight:400;color:#222222;-webkit-text-stroke:2px #222222">3</div>
<div class="t" style="left:3729.5px;top:1836.6px;font-size:104px;font-weight:400;color:#222222;letter-spacing:0.5px;-webkit-text-stroke:2px #222222">55</div>
<div class="t" style="left:4375.5px;top:1836.6px;font-size:104px;font-weight:400;color:#222222;letter-spacing:4.8px;-webkit-text-stroke:2px #222222">35</div>
<div class="t" style="left:4699.7px;top:1836.6px;font-size:104px;font-weight:400;color:#222222;letter-spacing:4.3px;-webkit-text-stroke:2px #222222">10</div>
<div class="t" style="left:3762px;top:2181.8px;font-size:104px;font-weight:400;color:#222222;letter-spacing:5px;-webkit-text-stroke:2px #222222">57</div>
<div class="t" style="left:4365.6px;top:2181.8px;font-size:104px;font-weight:400;color:#222222;letter-spacing:7.9px;-webkit-text-stroke:2px #222222">27</div>
<div class="t" style="left:4664.6px;top:2181.8px;font-size:104px;font-weight:400;color:#222222;letter-spacing:4.4px;-webkit-text-stroke:2px #222222">14</div>
<div class="t" style="left:3440px;top:2522px;font-size:104px;font-weight:400;color:#ffffff;letter-spacing:7.5px;-webkit-text-stroke:2px #ffffff">16</div>
<div class="t" style="left:4032.3px;top:2522px;font-size:104px;font-weight:400;color:#222222;letter-spacing:8.7px;-webkit-text-stroke:2px #222222">67</div>
<div class="t" style="left:4590px;top:2522px;font-size:104px;font-weight:400;color:#222222;letter-spacing:8.7px;-webkit-text-stroke:2px #222222">11</div>
<div class="t" style="left:4742.2px;top:2522px;font-size:104px;font-weight:400;color:#222222;-webkit-text-stroke:2px #222222">7</div>
<div class="t" style="left:1753.65px;top:3409.8px;font-size:104px;font-weight:400;color:#ffffff;-webkit-text-stroke:2px #ffffff">3</div>
<div class="t" style="left:1868px;top:3409.8px;font-size:104px;font-weight:400;color:#222222;letter-spacing:7.7px;-webkit-text-stroke:2px #222222">16</div>
<div class="t" style="left:2545.6px;top:3409.8px;font-size:104px;font-weight:400;color:#222222;letter-spacing:6.8px;-webkit-text-stroke:2px #222222">77</div>
<div class="t" style="left:3150.7px;top:3409.8px;font-size:104px;font-weight:400;color:#222222;-webkit-text-stroke:2px #222222">4</div>
<div class="t" style="left:1754.45px;top:3755.6px;font-size:104px;font-weight:400;color:#ffffff;-webkit-text-stroke:2px #ffffff">2</div>
<div class="t" style="left:1905.8px;top:3755.6px;font-size:104px;font-weight:400;color:#222222;letter-spacing:-2px;-webkit-text-stroke:2px #222222">21</div>
<div class="t" style="left:2561px;top:3755.6px;font-size:104px;font-weight:400;color:#222222;letter-spacing:5.6px;-webkit-text-stroke:2px #222222">70</div>
<div class="t" style="left:3132.15px;top:3755.6px;font-size:104px;font-weight:400;color:#222222;-webkit-text-stroke:2px #222222">7</div>
<div class="t" style="left:1821.3px;top:4097.5px;font-size:104px;font-weight:400;color:#ffffff;letter-spacing:4.5px;-webkit-text-stroke:2px #ffffff">15</div>
<div class="t" style="left:2393.3px;top:4097.5px;font-size:104px;font-weight:400;color:#222222;letter-spacing:4.1px;-webkit-text-stroke:2px #222222">64</div>
<div class="t" style="left:2959.6px;top:4097.5px;font-size:104px;font-weight:400;color:#222222;letter-spacing:4.7px;-webkit-text-stroke:2px #222222">14</div>
<div class="t" style="left:3132.5px;top:4097.5px;font-size:104px;font-weight:400;color:#222222;-webkit-text-stroke:2px #222222">7</div>
<div class="t" style="left:3400.55px;top:3409.8px;font-size:104px;font-weight:400;color:#ffffff;-webkit-text-stroke:2px #ffffff">7</div>
<div class="t" style="left:3619.8px;top:3409.8px;font-size:104px;font-weight:400;color:#222222;letter-spacing:7.6px;-webkit-text-stroke:2px #222222">27</div>
<div class="t" style="left:4272.4px;top:3409.8px;font-size:104px;font-weight:400;color:#222222;letter-spacing:5.6px;-webkit-text-stroke:2px #222222">64</div>
<div class="t" style="left:4775.15px;top:3409.8px;font-size:104px;font-weight:400;color:#222222;-webkit-text-stroke:2px #222222">2</div>
<div class="t" style="left:3401.55px;top:3755.6px;font-size:104px;font-weight:400;color:#ffffff;-webkit-text-stroke:2px #ffffff">7</div>
<div class="t" style="left:3709.7px;top:3755.6px;font-size:104px;font-weight:400;color:#222222;letter-spacing:6.8px;-webkit-text-stroke:2px #222222">39</div>
<div class="t" style="left:4365px;top:3755.6px;font-size:104px;font-weight:400;color:#222222;letter-spacing:4.3px;-webkit-text-stroke:2px #222222">52</div>
<div class="t" style="left:4769.75px;top:3755.6px;font-size:104px;font-weight:400;color:#222222;-webkit-text-stroke:2px #222222">2</div>
<div class="t" style="left:3437.9px;top:4097.5px;font-size:104px;font-weight:400;color:#ffffff;letter-spacing:6.1px;-webkit-text-stroke:2px #ffffff">15</div>
<div class="t" style="left:3940px;top:4097.5px;font-size:104px;font-weight:400;color:#222222;letter-spacing:0.4px;-webkit-text-stroke:2px #222222">54</div>
<div class="t" style="left:4489px;top:4097.5px;font-size:104px;font-weight:400;color:#222222;letter-spacing:2.7px;-webkit-text-stroke:2px #222222">23</div>
<div class="t" style="left:4711.1px;top:4097.5px;font-size:104px;font-weight:400;color:#222222;-webkit-text-stroke:2px #222222">8</div>
<div class="t" style="left:4802.65px;top:4097.5px;font-size:104px;font-weight:400;color:#222222;-webkit-text-stroke:2px #222222">1</div>
<div class="t" style="left:9.8px;top:4985px;font-size:14.5px;font-weight:400;color:#ffffff">© ZEW</div>
</body></html>
